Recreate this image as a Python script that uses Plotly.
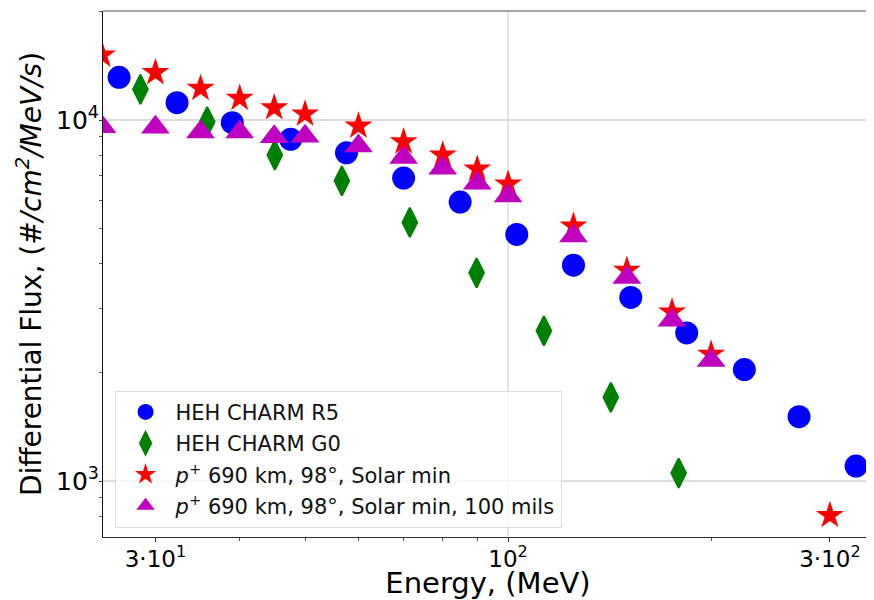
import plotly.graph_objects as go

# ---- data ----
r5_energy = [26.5, 32.3, 39.0, 47.6, 57.6, 70.0, 84.9, 103, 125, 152, 184, 224, 270, 328]
r5_flux = [13130, 11170, 9830, 8840, 8115, 6906, 5926, 4822, 3963, 3225, 2572, 2036, 1508, 1100]

g0_energy = [28.5, 35.8, 45.1, 56.7, 71.5, 89.8, 113, 142, 179]
g0_flux = [12165, 9892, 7998, 6786, 5205, 3773, 2606, 1706, 1052]

solar_energy = [25, 30, 35, 40, 45, 50, 60, 70, 80, 90, 100, 125, 150, 175, 200, 300]
solar_flux = [15140, 13530, 12240, 11490, 10820, 10390, 9625, 8705, 7998, 7313, 6646,
              5084, 3838, 2940, 2245, 803]

mils_energy = [25, 30, 35, 40, 45, 50, 60, 70, 80, 90, 100, 125, 150, 175, 200]
mils_flux = [9581, 9545, 9262, 9262, 8989, 9012, 8471, 7871, 7350, 6677, 6157,
             4776, 3664, 2790, 2157]

x_tickvals = [30, 100, 300]
x_ticktext = ["3·10<sup>1</sup>", "10<sup>2</sup>", "3·10<sup>2</sup>"]
x_minor = [40, 50, 60, 70, 80, 90, 200]
y_tickvals = [1000, 10000]
y_ticktext = ["10<sup>3</sup>", "10<sup>4</sup>"]
y_minor = [800, 900, 2000, 3000, 4000, 5000, 6000, 7000, 8000, 9000, 20000]

FONT = "DejaVu Sans"

fig = go.Figure()
fig.add_trace(go.Scatter(x=r5_energy, y=r5_flux, mode="markers", name="HEH CHARM R5",
                         legendgroup="a",
                         marker=dict(symbol="circle", size=23, color="#0000ff", line=dict(width=0))))
fig.add_trace(go.Scatter(x=g0_energy, y=g0_flux, mode="markers", name="HEH CHARM G0",
                         legendgroup="b",
                         marker=dict(symbol="diamond-tall", size=21, color="#008000",
                                     line=dict(width=2, color="#008000"))))
fig.add_trace(go.Scatter(x=solar_energy, y=solar_flux, mode="markers",
                         name="<i>p</i><sup>+</sup> 690 km, 98°, Solar min",
                         legendgroup="c",
                         marker=dict(symbol="star", size=21, color="#ff0000", line=dict(width=0))))
fig.add_trace(go.Scatter(x=mils_energy, y=mils_flux, mode="markers",
                         name="<i>p</i><sup>+</sup> 690 km, 98°, Solar min, 100 mils",
                         legendgroup="d",
                         marker=dict(symbol="triangle-up", size=25, color="#bf00bf", line=dict(width=0))))

# the page body adds an 8 px offset, so the figure is 8 px smaller than the window
fig.update_layout(
    width=866, height=592,
    margin=dict(l=95, r=1, t=3, b=63),
    paper_bgcolor="white", plot_bgcolor="white",
    font=dict(family=FONT, color="black"),
    showlegend=True,
    legend=dict(x=0.015, y=0.278, xanchor="left", yanchor="top",
                bgcolor="rgba(255,255,255,0.8)", bordercolor="#dddddd", borderwidth=1,
                font=dict(family=FONT, size=21, color="#111111"),
                itemwidth=50, tracegroupgap=1),
    xaxis=dict(type="log", range=[1.3994, 2.541], automargin=False,
               tickmode="array", tickvals=x_tickvals, ticktext=x_ticktext,
               tickfont=dict(size=23, family=FONT), showgrid=False,
               ticks="outside", ticklen=4, tickcolor="#333333", ticklabelstandoff=-3,
               minor=dict(tickmode="array", tickvals=x_minor, ticks="outside", ticklen=3,
                          tickcolor="#555555", showgrid=False),
               showline=True, linecolor="#333333", linewidth=1, mirror=False, zeroline=False,
               title=dict(text="Energy, (MeV)", font=dict(size=29, family=FONT), standoff=5)),
    yaxis=dict(type="log", range=[2.845, 4.302], automargin=False,
               tickmode="array", tickvals=y_tickvals, ticktext=y_ticktext,
               tickfont=dict(size=25, family=FONT), showgrid=True, gridcolor="#dddddd",
               gridwidth=1.5, ticklabelstandoff=-5,
               ticks="outside", ticklen=3, tickcolor="#333333",
               minor=dict(tickmode="array", tickvals=y_minor, ticks="outside", ticklen=3,
                          tickcolor="#555555", showgrid=False),
               showline=True, linecolor="#111111", linewidth=1, mirror=False, zeroline=False,
               title=dict(text="Differential Flux, (<i>#/cm<sup>2</sup>/MeV/s</i>)",
                          font=dict(size=28, family=FONT), standoff=6)),
    shapes=[
        dict(type="line", xref="x", yref="paper", x0=100, x1=100, y0=0, y1=1,
             line=dict(color="#cccccc", width=1), layer="below"),
        dict(type="line", xref="paper", yref="paper", x0=0, x1=1, y0=1, y1=1,
             line=dict(color="#888888", width=1.5)),
        dict(type="line", xref="paper", yref="paper", x0=1, x1=1, y0=0, y1=1,
             line=dict(color="#cccccc", width=1)),
    ],
)

fig.write_html("out.html")
